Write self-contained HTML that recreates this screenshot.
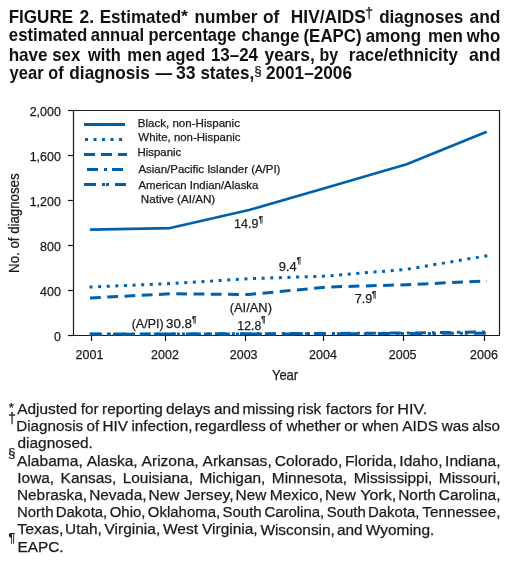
<!DOCTYPE html>
<html><head><meta charset="utf-8"><style>
html,body{margin:0;padding:0;background:#fff;}
svg{display:block;will-change:transform;}
text{font-family:"Liberation Sans",sans-serif;stroke:#1a1a1a;stroke-width:0.25px;}
text[font-weight]{stroke:#111;stroke-width:0.0px;}
</style></head><body>
<svg width="511" height="562" viewBox="0 0 511 562">
<g stroke="#1a1a1a" stroke-width="1.2" fill="none">
<path d="M73.5,110.5 H499.5 V335.5 H73.5 Z"/>
<path d="M68,110.5 H73.5"/>
<path d="M68,155.5 H73.5"/>
<path d="M68,200.5 H73.5"/>
<path d="M68,245.5 H73.5"/>
<path d="M68,290.5 H73.5"/>
<path d="M68,335.5 H73.5"/>
<path d="M91.5,335.5 V341"/>
<path d="M165.5,335.5 V341"/>
<path d="M245.5,335.5 V341"/>
<path d="M323.5,335.5 V341"/>
<path d="M403.5,335.5 V341"/>
<path d="M484.5,335.5 V341"/>
</g>
<polyline points="91.40,229.60 170.20,228.10 249.00,210.00 327.90,187.30 406.70,164.20 485.50,132.20" fill="none" stroke="#0060aa" stroke-width="2.6" stroke-linecap="square" stroke-linejoin="round"/>
<polyline points="89.50,287.08 170.20,283.60 249.00,278.70 327.90,276.00 406.70,269.30 487.30,255.70" fill="none" stroke="#0060aa" stroke-width="3" stroke-linecap="butt" stroke-linejoin="round" stroke-dasharray="3 5.62"/>
<polyline points="90.00,297.97 170.20,293.80 249.00,294.50 327.90,287.00 406.70,284.70 487.00,280.93" fill="none" stroke="#0060aa" stroke-width="3" stroke-linecap="butt" stroke-linejoin="round" stroke-dasharray="10.8 6.47"/>
<polyline points="89.90,334.00 170.20,334.00 249.00,333.70 327.90,333.50 406.70,333.00 487.00,331.98" fill="none" stroke="#0060aa" stroke-width="3" stroke-linecap="butt" stroke-linejoin="round" stroke-dasharray="11 6 3 5"/>
<polyline points="89.90,334.20 170.20,334.10 249.00,334.00 327.90,333.80 406.70,333.50 487.00,333.19" fill="none" stroke="#0060aa" stroke-width="3" stroke-linecap="butt" stroke-linejoin="round" stroke-dasharray="12 6 3 2 3 6"/>
<path d="M84,124.5 H125" stroke="#0060aa" stroke-width="3"/>
<path d="M85,139.5 H124" stroke="#0060aa" stroke-width="3" stroke-dasharray="3 5.5"/>
<path d="M84,154.5 H127" stroke="#0060aa" stroke-width="3" stroke-dasharray="11 6"/>
<path d="M87,169.5 H124" stroke="#0060aa" stroke-width="3" stroke-dasharray="11 6 3 5"/>
<path d="M84,184.5 H126" stroke="#0060aa" stroke-width="3" stroke-dasharray="12 6 3 1 3 6"/>
<g transform="rotate(0.01 255 281)">
<text x="137.65" y="126.90" font-size="11.2" textLength="102.25" lengthAdjust="spacingAndGlyphs" fill="#1a1a1a">Black, non-Hispanic</text>
<text x="138.35" y="141.50" font-size="11.2" textLength="102.15" lengthAdjust="spacingAndGlyphs" fill="#1a1a1a">White, non-Hispanic</text>
<text x="137.46" y="156.20" font-size="11.2" textLength="43.84" lengthAdjust="spacingAndGlyphs" fill="#1a1a1a">Hispanic</text>
<text x="138.38" y="173.00" font-size="11.2" textLength="142.03" lengthAdjust="spacingAndGlyphs" fill="#1a1a1a">Asian/Pacific Islander (A/PI)</text>
<text x="138.38" y="188.90" font-size="11.2" textLength="120.02" lengthAdjust="spacingAndGlyphs" fill="#1a1a1a">American Indian/Alaska</text>
<text x="140.85" y="202.80" font-size="11.2" textLength="74.38" lengthAdjust="spacingAndGlyphs" fill="#1a1a1a">Native (AI/AN)</text>
<text x="29.66" y="115.80" font-size="13" textLength="31.23" lengthAdjust="spacingAndGlyphs" fill="#1a1a1a">2,000</text>
<text x="29.66" y="160.80" font-size="13" textLength="31.23" lengthAdjust="spacingAndGlyphs" fill="#1a1a1a">1,600</text>
<text x="29.66" y="205.80" font-size="13" textLength="31.23" lengthAdjust="spacingAndGlyphs" fill="#1a1a1a">1,200</text>
<text x="40.07" y="250.80" font-size="13" textLength="20.82" lengthAdjust="spacingAndGlyphs" fill="#1a1a1a">800</text>
<text x="40.07" y="295.80" font-size="13" textLength="20.82" lengthAdjust="spacingAndGlyphs" fill="#1a1a1a">400</text>
<text x="53.95" y="340.80" font-size="13" textLength="6.94" lengthAdjust="spacingAndGlyphs" fill="#1a1a1a">0</text>
<text x="75.61" y="358.80" font-size="13" textLength="27.76" lengthAdjust="spacingAndGlyphs" fill="#1a1a1a">2001</text>
<text x="151.12" y="358.80" font-size="13" textLength="27.76" lengthAdjust="spacingAndGlyphs" fill="#1a1a1a">2002</text>
<text x="229.78" y="358.80" font-size="13" textLength="27.76" lengthAdjust="spacingAndGlyphs" fill="#1a1a1a">2003</text>
<text x="309.09" y="358.80" font-size="13" textLength="27.76" lengthAdjust="spacingAndGlyphs" fill="#1a1a1a">2004</text>
<text x="388.77" y="358.80" font-size="13" textLength="27.76" lengthAdjust="spacingAndGlyphs" fill="#1a1a1a">2005</text>
<text x="470.08" y="358.80" font-size="13" textLength="27.76" lengthAdjust="spacingAndGlyphs" fill="#1a1a1a">2006</text>
<text x="234.05" y="228.10" font-size="13" textLength="24.35" lengthAdjust="spacingAndGlyphs" fill="#1a1a1a">14.9</text>
<text x="258.79" y="221.81" font-size="8.3" textLength="4.28" lengthAdjust="spacingAndGlyphs" fill="#1a1a1a">¶</text>
<text x="278.69" y="271.00" font-size="13" textLength="17.99" lengthAdjust="spacingAndGlyphs" fill="#1a1a1a">9.4</text>
<text x="296.69" y="263.01" font-size="8.3" textLength="4.28" lengthAdjust="spacingAndGlyphs" fill="#1a1a1a">¶</text>
<text x="354.65" y="303.10" font-size="13" textLength="17.54" lengthAdjust="spacingAndGlyphs" fill="#1a1a1a">7.9</text>
<text x="372.09" y="296.81" font-size="8.3" textLength="4.28" lengthAdjust="spacingAndGlyphs" fill="#1a1a1a">¶</text>
<text x="229.70" y="312.40" font-size="13" textLength="42.30" lengthAdjust="spacingAndGlyphs" fill="#1a1a1a">(AI/AN)</text>
<text x="237.37" y="329.60" font-size="13" textLength="23.87" lengthAdjust="spacingAndGlyphs" fill="#1a1a1a">12.8</text>
<text x="261.19" y="322.01" font-size="8.3" textLength="4.28" lengthAdjust="spacingAndGlyphs" fill="#1a1a1a">¶</text>
<text x="131.72" y="328.10" font-size="13" textLength="31.95" lengthAdjust="spacingAndGlyphs" fill="#1a1a1a">(A/PI)</text>
<text x="165.99" y="328.10" font-size="13" textLength="26.09" lengthAdjust="spacingAndGlyphs" fill="#1a1a1a">30.8</text>
<text x="191.99" y="322.41" font-size="8.3" textLength="4.28" lengthAdjust="spacingAndGlyphs" fill="#1a1a1a">¶</text>
<text x="271.93" y="379.90" font-size="15" textLength="26.28" lengthAdjust="spacingAndGlyphs" fill="#1a1a1a">Year</text>
<g transform="translate(19.3,271.9) rotate(-90)">
<text x="-1.09" y="0.00" font-size="14" textLength="99.57" lengthAdjust="spacingAndGlyphs" fill="#1a1a1a">No. of diagnoses</text>
</g>
<text x="8.66" y="22.80" font-size="18.2" font-weight="bold" textLength="64.41" lengthAdjust="spacingAndGlyphs" fill="#111">FIGURE</text>
<text x="79.59" y="22.80" font-size="18.2" font-weight="bold" textLength="14.61" lengthAdjust="spacingAndGlyphs" fill="#111">2.</text>
<text x="99.66" y="22.80" font-size="18.2" font-weight="bold" textLength="81.46" lengthAdjust="spacingAndGlyphs" fill="#111">Estimated</text>
<text x="194.57" y="22.80" font-size="18.2" font-weight="bold" textLength="62.89" lengthAdjust="spacingAndGlyphs" fill="#111">number</text>
<text x="262.92" y="22.80" font-size="18.2" font-weight="bold" textLength="16.34" lengthAdjust="spacingAndGlyphs" fill="#111">of</text>
<text x="290.84" y="22.80" font-size="18.2" font-weight="bold" textLength="74.93" lengthAdjust="spacingAndGlyphs" fill="#111">HIV/AIDS</text>
<text x="379.10" y="22.80" font-size="18.2" font-weight="bold" textLength="84.20" lengthAdjust="spacingAndGlyphs" fill="#111">diagnoses</text>
<text x="469.49" y="22.80" font-size="18.2" font-weight="bold" textLength="30.96" lengthAdjust="spacingAndGlyphs" fill="#111">and</text>
<text x="180.95" y="21.83" font-size="15.6" font-weight="bold" textLength="6.97" lengthAdjust="spacingAndGlyphs" fill="#111">*</text>
<text x="365.16" y="17.90" font-size="13.8" textLength="7.78" lengthAdjust="spacingAndGlyphs" fill="#111">†</text>
<text x="8.74" y="41.50" font-size="18.2" font-weight="bold" textLength="78.57" lengthAdjust="spacingAndGlyphs" fill="#111">estimated</text>
<text x="90.61" y="41.50" font-size="18.2" font-weight="bold" textLength="53.56" lengthAdjust="spacingAndGlyphs" fill="#111">annual</text>
<text x="148.42" y="41.50" font-size="18.2" font-weight="bold" textLength="87.75" lengthAdjust="spacingAndGlyphs" fill="#111">percentage</text>
<text x="241.35" y="41.50" font-size="18.2" font-weight="bold" textLength="58.01" lengthAdjust="spacingAndGlyphs" fill="#111">change</text>
<text x="303.46" y="41.50" font-size="18.2" font-weight="bold" textLength="58.18" lengthAdjust="spacingAndGlyphs" fill="#111">(EAPC)</text>
<text x="365.61" y="41.50" font-size="18.2" font-weight="bold" textLength="55.32" lengthAdjust="spacingAndGlyphs" fill="#111">among</text>
<text x="427.98" y="41.50" font-size="18.2" font-weight="bold" textLength="34.87" lengthAdjust="spacingAndGlyphs" fill="#111">men</text>
<text x="466.75" y="41.50" font-size="18.2" font-weight="bold" textLength="33.40" lengthAdjust="spacingAndGlyphs" fill="#111">who</text>
<text x="8.61" y="60.70" font-size="18.2" font-weight="bold" textLength="38.98" lengthAdjust="spacingAndGlyphs" fill="#111">have</text>
<text x="52.21" y="60.70" font-size="18.2" font-weight="bold" textLength="28.12" lengthAdjust="spacingAndGlyphs" fill="#111">sex</text>
<text x="87.85" y="60.70" font-size="18.2" font-weight="bold" textLength="32.77" lengthAdjust="spacingAndGlyphs" fill="#111">with</text>
<text x="127.30" y="60.70" font-size="18.2" font-weight="bold" textLength="34.44" lengthAdjust="spacingAndGlyphs" fill="#111">men</text>
<text x="166.01" y="60.70" font-size="18.2" font-weight="bold" textLength="39.09" lengthAdjust="spacingAndGlyphs" fill="#111">aged</text>
<text x="210.93" y="60.70" font-size="18.2" font-weight="bold" textLength="47.06" lengthAdjust="spacingAndGlyphs" fill="#111">13–24</text>
<text x="264.46" y="60.70" font-size="18.2" font-weight="bold" textLength="50.40" lengthAdjust="spacingAndGlyphs" fill="#111">years,</text>
<text x="319.45" y="60.70" font-size="18.2" font-weight="bold" textLength="18.64" lengthAdjust="spacingAndGlyphs" fill="#111">by</text>
<text x="348.79" y="60.70" font-size="18.2" font-weight="bold" textLength="109.01" lengthAdjust="spacingAndGlyphs" fill="#111">race/ethnicity</text>
<text x="468.98" y="60.70" font-size="18.2" font-weight="bold" textLength="31.49" lengthAdjust="spacingAndGlyphs" fill="#111">and</text>
<text x="9.57" y="79.20" font-size="18.2" font-weight="bold" textLength="33.98" lengthAdjust="spacingAndGlyphs" fill="#111">year</text>
<text x="48.27" y="79.20" font-size="18.2" font-weight="bold" textLength="15.30" lengthAdjust="spacingAndGlyphs" fill="#111">of</text>
<text x="69.29" y="79.20" font-size="18.2" font-weight="bold" textLength="80.41" lengthAdjust="spacingAndGlyphs" fill="#111">diagnosis</text>
<text x="155.40" y="79.20" font-size="18.2" font-weight="bold" textLength="16.60" lengthAdjust="spacingAndGlyphs" fill="#111">—</text>
<text x="175.89" y="79.20" font-size="18.2" font-weight="bold" textLength="19.64" lengthAdjust="spacingAndGlyphs" fill="#111">33</text>
<text x="200.40" y="79.20" font-size="18.2" font-weight="bold" textLength="53.73" lengthAdjust="spacingAndGlyphs" fill="#111">states,</text>
<text x="265.90" y="79.20" font-size="18.2" font-weight="bold" textLength="86.02" lengthAdjust="spacingAndGlyphs" fill="#111">2001–2006</text>
<text x="254.25" y="74.82" font-size="13" textLength="7.39" lengthAdjust="spacingAndGlyphs" fill="#111">§</text>
<text x="17.27" y="414.10" font-size="15.4" textLength="59.93" lengthAdjust="spacingAndGlyphs" fill="#1a1a1a">Adjusted</text>
<text x="80.72" y="414.10" font-size="15.4" textLength="17.97" lengthAdjust="spacingAndGlyphs" fill="#1a1a1a">for</text>
<text x="102.15" y="414.10" font-size="15.4" textLength="60.78" lengthAdjust="spacingAndGlyphs" fill="#1a1a1a">reporting</text>
<text x="166.03" y="414.10" font-size="15.4" textLength="44.52" lengthAdjust="spacingAndGlyphs" fill="#1a1a1a">delays</text>
<text x="214.07" y="414.10" font-size="15.4" textLength="25.69" lengthAdjust="spacingAndGlyphs" fill="#1a1a1a">and</text>
<text x="242.48" y="414.10" font-size="15.4" textLength="52.20" lengthAdjust="spacingAndGlyphs" fill="#1a1a1a">missing</text>
<text x="297.40" y="414.10" font-size="15.4" textLength="23.95" lengthAdjust="spacingAndGlyphs" fill="#1a1a1a">risk</text>
<text x="325.89" y="414.10" font-size="15.4" textLength="46.22" lengthAdjust="spacingAndGlyphs" fill="#1a1a1a">factors</text>
<text x="376.07" y="414.10" font-size="15.4" textLength="17.97" lengthAdjust="spacingAndGlyphs" fill="#1a1a1a">for</text>
<text x="397.26" y="414.10" font-size="15.4" textLength="29.95" lengthAdjust="spacingAndGlyphs" fill="#1a1a1a">HIV.</text>
<text x="16.25" y="431.30" font-size="15.4" textLength="66.95" lengthAdjust="spacingAndGlyphs" fill="#1a1a1a">Diagnosis</text>
<text x="86.55" y="431.30" font-size="15.4" textLength="12.71" lengthAdjust="spacingAndGlyphs" fill="#1a1a1a">of</text>
<text x="102.59" y="431.30" font-size="15.4" textLength="25.41" lengthAdjust="spacingAndGlyphs" fill="#1a1a1a">HIV</text>
<text x="131.47" y="431.30" font-size="15.4" textLength="61.02" lengthAdjust="spacingAndGlyphs" fill="#1a1a1a">infection,</text>
<text x="194.66" y="431.30" font-size="15.4" textLength="71.18" lengthAdjust="spacingAndGlyphs" fill="#1a1a1a">regardless</text>
<text x="269.20" y="431.30" font-size="15.4" textLength="12.71" lengthAdjust="spacingAndGlyphs" fill="#1a1a1a">of</text>
<text x="286.51" y="431.30" font-size="15.4" textLength="54.24" lengthAdjust="spacingAndGlyphs" fill="#1a1a1a">whether</text>
<text x="344.40" y="431.30" font-size="15.4" textLength="13.56" lengthAdjust="spacingAndGlyphs" fill="#1a1a1a">or</text>
<text x="362.28" y="431.30" font-size="15.4" textLength="36.45" lengthAdjust="spacingAndGlyphs" fill="#1a1a1a">when</text>
<text x="402.25" y="431.30" font-size="15.4" textLength="35.58" lengthAdjust="spacingAndGlyphs" fill="#1a1a1a">AIDS</text>
<text x="441.71" y="431.30" font-size="15.4" textLength="27.11" lengthAdjust="spacingAndGlyphs" fill="#1a1a1a">was</text>
<text x="472.17" y="431.30" font-size="15.4" textLength="27.97" lengthAdjust="spacingAndGlyphs" fill="#1a1a1a">also</text>
<text x="17.55" y="448.50" font-size="15.4" textLength="75.35" lengthAdjust="spacingAndGlyphs" fill="#1a1a1a">diagnosed.</text>
<text x="17.07" y="465.70" font-size="15.4" textLength="65.71" lengthAdjust="spacingAndGlyphs" fill="#1a1a1a">Alabama,</text>
<text x="86.69" y="465.70" font-size="15.4" textLength="51.01" lengthAdjust="spacingAndGlyphs" fill="#1a1a1a">Alaska,</text>
<text x="141.62" y="465.70" font-size="15.4" textLength="57.06" lengthAdjust="spacingAndGlyphs" fill="#1a1a1a">Arizona,</text>
<text x="202.59" y="465.70" font-size="15.4" textLength="69.16" lengthAdjust="spacingAndGlyphs" fill="#1a1a1a">Arkansas,</text>
<text x="274.91" y="465.70" font-size="15.4" textLength="67.44" lengthAdjust="spacingAndGlyphs" fill="#1a1a1a">Colorado,</text>
<text x="345.02" y="465.70" font-size="15.4" textLength="51.86" lengthAdjust="spacingAndGlyphs" fill="#1a1a1a">Florida,</text>
<text x="399.39" y="465.70" font-size="15.4" textLength="43.24" lengthAdjust="spacingAndGlyphs" fill="#1a1a1a">Idaho,</text>
<text x="445.15" y="465.70" font-size="15.4" textLength="55.35" lengthAdjust="spacingAndGlyphs" fill="#1a1a1a">Indiana,</text>
<text x="17.38" y="482.90" font-size="15.4" textLength="36.81" lengthAdjust="spacingAndGlyphs" fill="#1a1a1a">Iowa,</text>
<text x="60.67" y="482.90" font-size="15.4" textLength="55.64" lengthAdjust="spacingAndGlyphs" fill="#1a1a1a">Kansas,</text>
<text x="122.79" y="482.90" font-size="15.4" textLength="70.21" lengthAdjust="spacingAndGlyphs" fill="#1a1a1a">Louisiana,</text>
<text x="199.48" y="482.90" font-size="15.4" textLength="65.91" lengthAdjust="spacingAndGlyphs" fill="#1a1a1a">Michigan,</text>
<text x="271.87" y="482.90" font-size="15.4" textLength="75.33" lengthAdjust="spacingAndGlyphs" fill="#1a1a1a">Minnesota,</text>
<text x="353.68" y="482.90" font-size="15.4" textLength="78.72" lengthAdjust="spacingAndGlyphs" fill="#1a1a1a">Mississippi,</text>
<text x="438.88" y="482.90" font-size="15.4" textLength="61.61" lengthAdjust="spacingAndGlyphs" fill="#1a1a1a">Missouri,</text>
<text x="16.94" y="500.10" font-size="15.4" textLength="70.19" lengthAdjust="spacingAndGlyphs" fill="#1a1a1a">Nebraska,</text>
<text x="89.19" y="500.10" font-size="15.4" textLength="57.36" lengthAdjust="spacingAndGlyphs" fill="#1a1a1a">Nevada,</text>
<text x="148.61" y="500.10" font-size="15.4" textLength="30.81" lengthAdjust="spacingAndGlyphs" fill="#1a1a1a">New</text>
<text x="183.93" y="500.10" font-size="15.4" textLength="49.64" lengthAdjust="spacingAndGlyphs" fill="#1a1a1a">Jersey,</text>
<text x="235.63" y="500.10" font-size="15.4" textLength="30.81" lengthAdjust="spacingAndGlyphs" fill="#1a1a1a">New</text>
<text x="269.92" y="500.10" font-size="15.4" textLength="53.06" lengthAdjust="spacingAndGlyphs" fill="#1a1a1a">Mexico,</text>
<text x="325.04" y="500.10" font-size="15.4" textLength="30.81" lengthAdjust="spacingAndGlyphs" fill="#1a1a1a">New</text>
<text x="360.26" y="500.10" font-size="15.4" textLength="35.94" lengthAdjust="spacingAndGlyphs" fill="#1a1a1a">York,</text>
<text x="398.27" y="500.10" font-size="15.4" textLength="37.66" lengthAdjust="spacingAndGlyphs" fill="#1a1a1a">North</text>
<text x="438.85" y="500.10" font-size="15.4" textLength="61.63" lengthAdjust="spacingAndGlyphs" fill="#1a1a1a">Carolina,</text>
<text x="16.97" y="517.30" font-size="15.4" textLength="36.53" lengthAdjust="spacingAndGlyphs" fill="#1a1a1a">North</text>
<text x="55.82" y="517.30" font-size="15.4" textLength="51.48" lengthAdjust="spacingAndGlyphs" fill="#1a1a1a">Dakota,</text>
<text x="109.75" y="517.30" font-size="15.4" textLength="35.70" lengthAdjust="spacingAndGlyphs" fill="#1a1a1a">Ohio,</text>
<text x="147.92" y="517.30" font-size="15.4" textLength="72.23" lengthAdjust="spacingAndGlyphs" fill="#1a1a1a">Oklahoma,</text>
<text x="222.64" y="517.30" font-size="15.4" textLength="39.04" lengthAdjust="spacingAndGlyphs" fill="#1a1a1a">South</text>
<text x="264.45" y="517.30" font-size="15.4" textLength="59.78" lengthAdjust="spacingAndGlyphs" fill="#1a1a1a">Carolina,</text>
<text x="326.72" y="517.30" font-size="15.4" textLength="39.04" lengthAdjust="spacingAndGlyphs" fill="#1a1a1a">South</text>
<text x="368.07" y="517.30" font-size="15.4" textLength="51.48" lengthAdjust="spacingAndGlyphs" fill="#1a1a1a">Dakota,</text>
<text x="422.38" y="517.30" font-size="15.4" textLength="78.06" lengthAdjust="spacingAndGlyphs" fill="#1a1a1a">Tennessee,</text>
<text x="17.25" y="534.50" font-size="15.4" textLength="46.22" lengthAdjust="spacingAndGlyphs" fill="#1a1a1a">Texas,</text>
<text x="65.08" y="534.50" font-size="15.4" textLength="36.81" lengthAdjust="spacingAndGlyphs" fill="#1a1a1a">Utah,</text>
<text x="104.62" y="534.50" font-size="15.4" textLength="55.64" lengthAdjust="spacingAndGlyphs" fill="#1a1a1a">Virginia,</text>
<text x="162.99" y="534.50" font-size="15.4" textLength="35.08" lengthAdjust="spacingAndGlyphs" fill="#1a1a1a">West</text>
<text x="202.07" y="534.50" font-size="15.4" textLength="55.64" lengthAdjust="spacingAndGlyphs" fill="#1a1a1a">Virginia,</text>
<text x="260.44" y="534.50" font-size="15.4" textLength="74.45" lengthAdjust="spacingAndGlyphs" fill="#1a1a1a">Wisconsin,</text>
<text x="337.03" y="534.50" font-size="15.4" textLength="25.69" lengthAdjust="spacingAndGlyphs" fill="#1a1a1a">and</text>
<text x="365.85" y="534.50" font-size="15.4" textLength="68.46" lengthAdjust="spacingAndGlyphs" fill="#1a1a1a">Wyoming.</text>
<text x="17.44" y="552.00" font-size="15.4" textLength="46.22" lengthAdjust="spacingAndGlyphs" fill="#1a1a1a">EAPC.</text>
<text x="8.89" y="412.11" font-size="12.8" textLength="5.12" lengthAdjust="spacingAndGlyphs" fill="#1a1a1a">*</text>
<text x="8.17" y="423.00" font-size="13.8" textLength="7.65" lengthAdjust="spacingAndGlyphs" fill="#1a1a1a">†</text>
<text x="8.14" y="456.83" font-size="13.7" textLength="7.52" lengthAdjust="spacingAndGlyphs" fill="#1a1a1a">§</text>
<text x="8.60" y="542.15" font-size="13.3" textLength="6.84" lengthAdjust="spacingAndGlyphs" fill="#1a1a1a">¶</text>
</g>
</svg>
</body></html>
